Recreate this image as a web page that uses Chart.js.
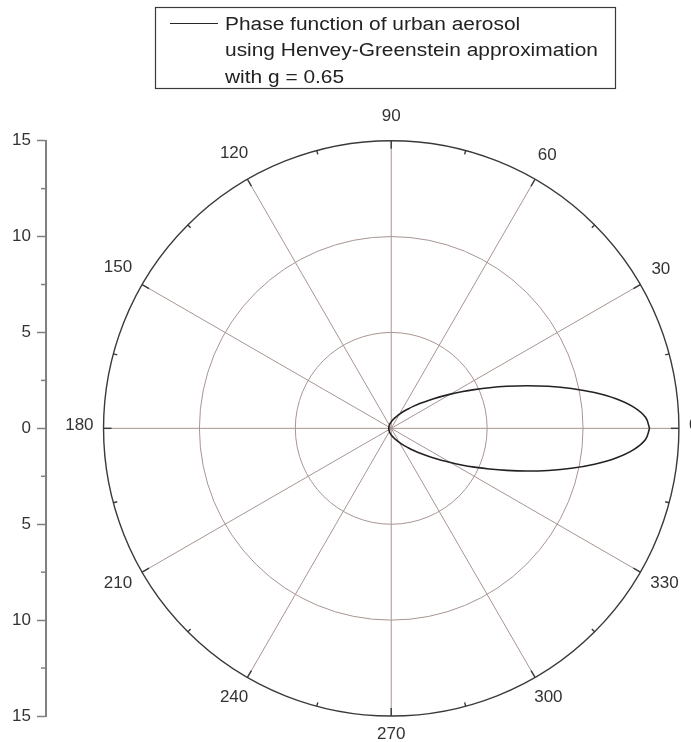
<!DOCTYPE html>
<html>
<head>
<meta charset="utf-8">
<script src="https://cdn.jsdelivr.net/npm/chart.js@4.4.1/dist/chart.umd.min.js"></script>
<style>
  body { margin: 0; background: #fff; }
  canvas { display: block; }
</style>
</head>
<body>
<canvas id="phaseChart" width="691" height="742"></canvas>
<script>
// angles in degrees, radii (phase function value)
var angles = [0, 2.5, 5, 7.5, 10, 12.5, 15, 17.5, 20, 22.5, 25, 27.5, 30,
  35, 40, 45, 50, 55, 60, 65, 70, 75, 80, 85, 90, 95, 100, 105, 110, 115, 120,
  125, 130, 135, 140, 145, 150, 155, 160, 165, 170, 175, 180,
  185, 190, 195, 200, 205, 210, 215, 220, 225, 230, 235, 240, 245, 250, 255,
  260, 265, 270, 275, 280, 285, 290, 295, 300, 305, 310, 315, 320, 325,
  330, 332.5, 335, 337.5, 340, 342.5, 345, 347.5, 350, 352.5, 355, 357.5, 360];
var radii = [13.47, 13.27, 12.69, 11.82, 10.76, 9.62, 8.48, 7.40, 6.41, 5.54, 4.78, 4.13, 3.57,
  2.70, 2.07, 1.62, 1.28, 1.04, 0.85, 0.71, 0.60, 0.51, 0.44, 0.39, 0.34, 0.30, 0.27, 0.25, 0.23, 0.21, 0.19,
  0.18, 0.17, 0.16, 0.15, 0.15, 0.14, 0.14, 0.13, 0.13, 0.13, 0.13, 0.13,
  0.13, 0.13, 0.13, 0.13, 0.14, 0.14, 0.15, 0.15, 0.16, 0.17, 0.18, 0.19, 0.21, 0.23, 0.25,
  0.27, 0.30, 0.34, 0.39, 0.44, 0.51, 0.60, 0.71, 0.85, 1.04, 1.28, 1.62, 2.07, 2.70,
  3.57, 4.13, 4.78, 5.54, 6.41, 7.40, 8.48, 9.62, 10.76, 11.82, 12.69, 13.27, 13.47];
var angleTicks = [0, 30, 60, 90, 120, 150, 180, 210, 240, 270, 300, 330];
var ringValues = [5, 10];
var outerRadius = 15;
var legendLines = ["Phase function of urban aerosol", "using Henvey-Greenstein approximation", "with g = 0.65"];

var FONT = '"Liberation Sans", Arial, sans-serif';
var gridColor = "#a89592";
var darkColor = "#3a3a3a";

var points = [];
for (var i = 0; i < angles.length; i++) {
  var a = angles[i] * Math.PI / 180;
  points.push({ x: radii[i] * Math.cos(a), y: radii[i] * Math.sin(a) });
}

var polarGrid = {
  id: "polarGrid",
  beforeDatasetsDraw: function(chart) {
    var c = chart.ctx, xs = chart.scales.x, ys = chart.scales.y;
    var cx = xs.getPixelForValue(0), cy = ys.getPixelForValue(0);
    function rx(r) { return xs.getPixelForValue(r) - cx; }
    function ry(r) { return cy - ys.getPixelForValue(r); }
    c.save();
    c.strokeStyle = gridColor;
    c.lineWidth = 1;
    ringValues.forEach(function(r) {
      c.beginPath();
      c.ellipse(cx, cy, rx(r), ry(r), 0, 0, Math.PI * 2);
      c.stroke();
    });
    angleTicks.forEach(function(t) {
      var a = t * Math.PI / 180;
      c.beginPath();
      c.moveTo(cx, cy);
      c.lineTo(cx + rx(outerRadius) * Math.cos(a), cy - ry(outerRadius) * Math.sin(a));
      c.stroke();
    });
    // outer ring
    c.strokeStyle = darkColor;
    c.lineWidth = 1.4;
    c.beginPath();
    c.ellipse(cx, cy, rx(outerRadius), ry(outerRadius), 0, 0, Math.PI * 2);
    c.stroke();
    // inward ticks, major every 30, minor every 15
    var R = ry(outerRadius);
    for (var t = 0; t < 360; t += 15) {
      var a = t * Math.PI / 180;
      var len = (t % 30 === 0) ? 8 : 4;
      c.beginPath();
      c.moveTo(cx + R * Math.cos(a), cy - R * Math.sin(a));
      c.lineTo(cx + (R - len) * Math.cos(a), cy - (R - len) * Math.sin(a));
      c.stroke();
    }
    c.restore();
  },
  afterDraw: function(chart) {
    var c = chart.ctx, xs = chart.scales.x, ys = chart.scales.y;
    var cx = xs.getPixelForValue(0), cy = ys.getPixelForValue(0);
    var R = cy - ys.getPixelForValue(outerRadius);
    c.save();
    // angle labels
    c.font = "17px " + FONT;
    c.fillStyle = "#333";
    c.textAlign = "center";
    c.textBaseline = "middle";
    angleTicks.forEach(function(t) {
      var a = t * Math.PI / 180;
      var txt = String(t);
      var w = c.measureText(txt).width;
      var off = R + 10 + Math.abs(Math.cos(a)) * w / 2 + Math.abs(Math.sin(a)) * 11;
      c.fillText(txt, cx + off * Math.cos(a), cy - off * Math.sin(a) - 3);
    });
    // minor ticks on the left axis
    c.strokeStyle = "#808080";
    c.lineWidth = 1.5;
    var left = chart.chartArea.left;
    ys.ticks.forEach(function(tk) {
      if (tk.value % 5 !== 0) {
        var y = ys.getPixelForValue(tk.value);
        c.beginPath();
        c.moveTo(left - 5, y);
        c.lineTo(left, y);
        c.stroke();
      }
    });
    // legend box
    c.strokeStyle = darkColor;
    c.lineWidth = 1.2;
    c.strokeRect(155.5, 7.5, 460, 81);
    c.strokeStyle = "#262626";
    c.beginPath();
    c.moveTo(170, 23.5);
    c.lineTo(218, 23.5);
    c.stroke();
    c.font = "18px " + FONT;
    c.fillStyle = "#222";
    c.textAlign = "left";
    c.textBaseline = "alphabetic";
    var stretch = 373 / c.measureText(legendLines[1]).width;
    legendLines.forEach(function(line, k) {
      c.save();
      c.translate(225, 29.5 + k * 26.7);
      c.scale(stretch, 1);
      c.fillText(line, 0, 0);
      c.restore();
    });
    c.restore();
  }
};

new Chart("phaseChart", {
  type: "scatter",
  data: {
    datasets: [{
      label: legendLines.join(" "),
      data: points,
      showLine: true,
      borderColor: "#222",
      borderWidth: 1.6,
      pointRadius: 0,
      tension: 0.4,
      fill: false
    }]
  },
  options: {
    responsive: false,
    animation: false,
    layout: { padding: { top: 140.7, bottom: 26, left: 0, right: 0 } },
    plugins: {
      legend: { display: false },
      tooltip: { enabled: false }
    },
    scales: {
      x: { type: "linear", display: false, min: -18, max: 15.63 },
      y: {
        type: "linear",
        position: "left",
        min: -15,
        max: 15,
        afterFit: function(scale) { scale.width = 46; },
        ticks: {
          stepSize: 2.5,
          padding: 6,
          color: "#333",
          font: { family: FONT, size: 17 },
          callback: function(v) { return v % 5 === 0 ? String(Math.abs(v)) : ""; }
        },
        grid: {
          drawOnChartArea: false,
          tickLength: 9,
          tickWidth: 1.5,
          tickColor: function(ctx) { return ctx.tick && ctx.tick.value % 5 === 0 ? "#808080" : "rgba(0,0,0,0)"; }
        },
        border: { color: "#808080", width: 2 }
      }
    }
  },
  plugins: [polarGrid]
});
</script>
</body>
</html>
